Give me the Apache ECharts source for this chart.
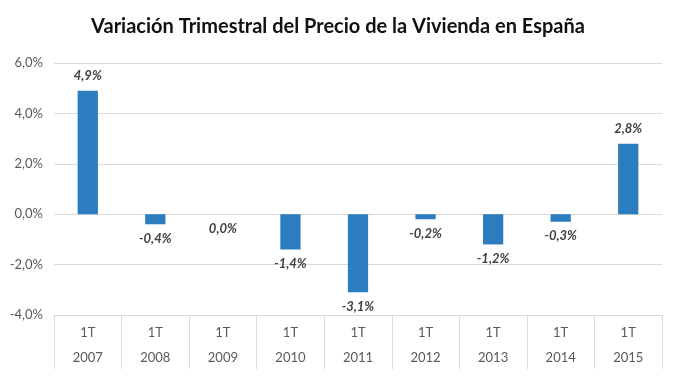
<!DOCTYPE html>
<html>
<head>
<meta charset="utf-8">
<script src="https://cdn.jsdelivr.net/npm/echarts@6/dist/echarts.min.js"></script>
<style>
  html, body { margin: 0; padding: 0; background: #fff; }
  #chart { width: 676px; height: 376px; }
</style>
</head>
<body>
<div id="chart"></div>
<script>
// datos del gráfico
const years = ['2007', '2008', '2009', '2010', '2011', '2012', '2013', '2014', '2015'];
const quarter = '1T';
const values = [4.9, -0.4, 0.0, -1.4, -3.1, -0.2, -1.2, -0.3, 2.8];

const fmt = v => v.toFixed(1).replace('.', ',') + '%';

const chart = echarts.init(document.getElementById('chart'));

const option = {
  backgroundColor: '#fff',
  title: {
    text: 'Variación Trimestral del Precio de la Vivienda en España',
    left: 'center',
    top: 12,
    textStyle: { fontFamily: 'Lato', fontWeight: 'bold', fontSize: 20, color: '#111' }
  },
  grid: { left: 54, right: 14, top: 63, bottom: 61 },
  xAxis: {
    type: 'category',
    data: years,
    axisLine: { onZero: false, lineStyle: { color: '#d9d9d9' } },
    axisTick: { show: true, length: 54, lineStyle: { color: '#d9d9d9' } },
    axisLabel: {
      formatter: y => quarter + '\n' + y,
      lineHeight: 25,
      margin: 5,
      fontFamily: 'Lato',
      fontSize: 13,
      color: '#595959'
    }
  },
  yAxis: {
    type: 'value',
    min: -4,
    max: 6,
    interval: 2,
    axisLine: { show: false },
    axisTick: { show: false },
    splitLine: { lineStyle: { color: '#d9d9d9' } },
    axisLabel: {
      formatter: fmt,
      margin: 11,
      fontFamily: 'Lato',
      fontSize: 13,
      color: '#595959'
    }
  },
  series: [{
    type: 'bar',
    barWidth: '30%',
    itemStyle: { color: '#2C7CC0' },
    data: values.map(v => ({
      value: v,
      label: { position: v > 0 ? 'top' : 'bottom' }
    })),
    label: {
      show: true,
      distance: 8,
      formatter: p => fmt(p.value),
      fontFamily: 'Lato',
      fontSize: 13,
      fontWeight: 'bold',
      fontStyle: 'italic',
      color: '#404040'
    }
  }]
};

chart.setOption(option);
</script>
</body>
</html>
